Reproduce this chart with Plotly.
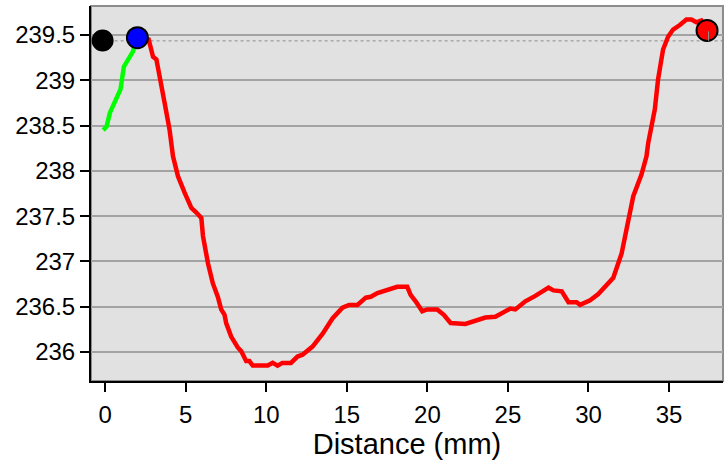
import plotly.graph_objects as go

# Green segment (distance mm, elevation)
green_x = [-0.12, 0.09, 0.29, 0.71, 0.95, 1.16, 1.42, 1.73, 1.80, 2.0]
green_y = [238.45, 238.49, 238.64, 238.82, 238.90, 239.15, 239.23, 239.32, 239.37, 239.46]

# Red segment
red_x = [2.0, 2.7, 2.97, 3.18, 3.69, 4.0, 4.21, 4.52, 4.93, 5.14, 5.35, 5.66, 5.97, 6.07,
         6.38, 6.68, 6.99, 7.2, 7.41, 7.51, 7.82, 8.23, 8.44, 8.75, 8.95, 9.16, 10.09, 10.4,
         10.7, 11.0, 11.53, 11.94, 12.25, 12.87, 13.49, 14.11, 14.73, 15.14, 15.66, 16.18,
         16.49, 16.9, 17.31, 17.72, 18.13, 18.75, 18.96, 19.27, 19.68, 19.99, 20.61, 21.02,
         21.44, 22.36, 22.98, 23.6, 24.22, 24.84, 25.15, 25.46, 26.08, 26.7, 27.1, 27.52,
         27.83, 28.34, 28.76, 29.27, 29.48, 30.1, 30.61, 31.03, 31.54, 32.06, 32.26, 32.78,
         33.29, 33.6, 33.71, 34.12, 34.32, 34.63, 34.94, 35.25, 35.67, 36.08, 36.39, 36.7,
         37.0, 37.36]
red_y = [239.47, 239.45, 239.26, 239.23, 238.75, 238.45, 238.16, 237.94, 237.76, 237.68,
         237.59, 237.54, 237.48, 237.28, 236.98, 236.76, 236.61, 236.47, 236.41, 236.32,
         236.17, 236.05, 236.01, 235.90, 235.90, 235.85, 235.85, 235.88, 235.85, 235.88,
         235.88, 235.95, 235.97, 236.06, 236.20, 236.37, 236.49, 236.52, 236.52, 236.60,
         236.61, 236.65, 236.67, 236.69, 236.72, 236.72, 236.63, 236.56, 236.45, 236.47,
         236.47, 236.41, 236.32, 236.31, 236.34, 236.38, 236.39, 236.45, 236.48, 236.47,
         236.56, 236.62, 236.67, 236.71, 236.68, 236.67, 236.55, 236.55, 236.52, 236.57,
         236.64, 236.73, 236.82, 237.09, 237.28, 237.72, 237.96, 238.16, 238.31, 238.68,
         239.01, 239.34, 239.48, 239.56, 239.61, 239.67, 239.67, 239.64, 239.66, 239.55]

# Markers
start_pt = (-0.16, 239.44)
mid_pt = (2.0, 239.47)
end_pt = (37.36, 239.55)
ref_level = 239.435

x_ticks = [0, 5, 10, 15, 20, 25, 30, 35]
y_ticks = [236, 236.5, 237, 237.5, 238, 238.5, 239, 239.5]
y_tick_text = ["236", "236.5", "237", "237.5", "238", "238.5", "239", "239.5"]

x_range = [-0.88, 38.35]
y_range = [235.68, 239.82]

fig = go.Figure()

# reference dotted line
fig.add_trace(go.Scatter(x=[start_pt[0], x_range[1]], y=[ref_level, ref_level], mode="lines",
                         line=dict(color="#8a8a8a", width=1, dash="dot"), hoverinfo="skip"))
fig.add_trace(go.Scatter(x=green_x, y=green_y, mode="lines",
                         line=dict(color="#00ff00", width=4.5), hoverinfo="skip"))
fig.add_trace(go.Scatter(x=red_x, y=red_y, mode="lines",
                         line=dict(color="#ff0000", width=4.5), hoverinfo="skip"))
fig.add_trace(go.Scatter(x=[start_pt[0]], y=[start_pt[1]], mode="markers",
                         marker=dict(color="#000000", size=20, line=dict(color="#000000", width=2))))
fig.add_trace(go.Scatter(x=[mid_pt[0]], y=[mid_pt[1]], mode="markers",
                         marker=dict(color="#0000ff", size=21, line=dict(color="#000000", width=2))))
fig.add_trace(go.Scatter(x=[end_pt[0]], y=[end_pt[1]], mode="markers",
                         marker=dict(color="#ff0000", size=21, line=dict(color="#000000", width=2))))
fig.add_trace(go.Scatter(x=[end_pt[0] + 0.09, end_pt[0] + 0.09], y=[ref_level, end_pt[1] - 0.01],
                         mode="lines", line=dict(color="#8a8a8a", width=1), hoverinfo="skip"))

fig.add_shape(type="rect", xref="paper", yref="paper", x0=0, y0=0, x1=1, y1=1,
              line=dict(color="#8c8c8c", width=2), layer="below")

font = "Liberation Sans, Arial, sans-serif"
fig.update_layout(
    width=727, height=463,
    margin=dict(l=91, r=4, t=6, b=82),
    plot_bgcolor="#e1e1e1", paper_bgcolor="#ffffff",
    showlegend=False,
    font=dict(family=font, size=24, color="#000000"),
)
fig.update_xaxes(range=x_range, tickvals=x_ticks, showgrid=False, zeroline=False,
                 showline=True, linecolor="#000000", linewidth=2,
                 ticks="outside", ticklen=9, tickwidth=2, tickcolor="#000000",
                 tickfont=dict(size=24, family=font), ticklabelstandoff=2,
                 title=dict(text="Distance (mm)", font=dict(size=29, family=font), standoff=6))
fig.update_yaxes(range=y_range, tickvals=y_ticks, ticktext=y_tick_text,
                 showgrid=True, gridcolor="#a3a3a3", gridwidth=1.5, zeroline=False,
                 showline=True, linecolor="#000000", linewidth=2,
                 ticks="outside", ticklen=9, tickwidth=2, tickcolor="#000000",
                 tickfont=dict(size=24, family=font))

fig.write_html("out.html", config={"displayModeBar": False},
               post_script="document.body.style.margin='0';")
